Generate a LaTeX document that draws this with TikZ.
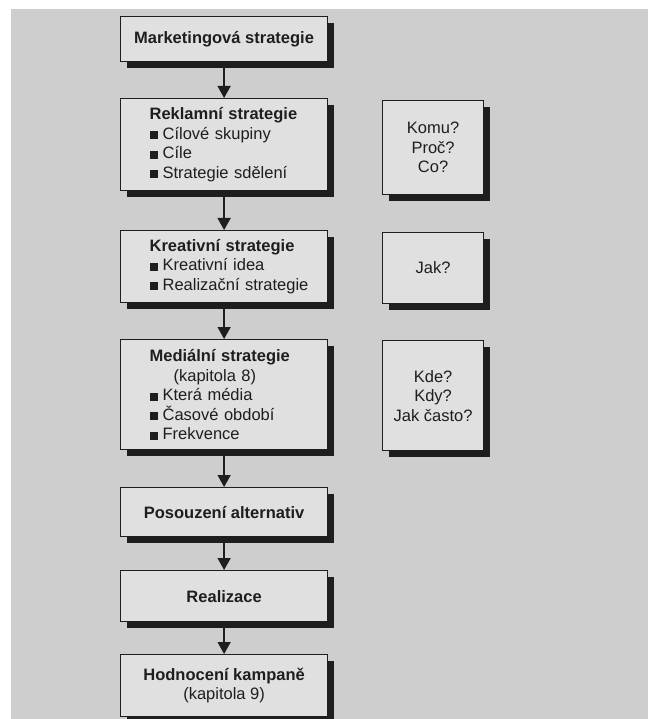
\documentclass[tikz,border=0pt]{standalone}
\usepackage{fontspec}
\setmainfont{Liberation Sans}
\usetikzlibrary{shadows,arrows.meta}
\definecolor{pagebg}{RGB}{206,206,206}
\definecolor{boxbg}{RGB}{224,224,224}
\definecolor{ink}{RGB}{30,30,30}
\newcommand{\itm}[1]{\mbox{\rule{8pt}{8pt}\hspace{5pt}#1}}
\begin{document}
\begin{tikzpicture}[x=1pt,y=-1pt,
  box/.style={draw=ink, line width=1.2pt, fill=boxbg, text=ink, anchor=north west,
    minimum width=207pt, inner sep=0pt,
    drop shadow={shadow xshift=6pt, shadow yshift=-6pt, fill=ink, opacity=1},
    font=\fontsize{16.5}{19.5}\selectfont},
  listbox/.style={box, align=left, text width=149pt},
  midbox/.style={box, align=center, font=\fontsize{16.5}{19.5}\selectfont\bfseries},
  qbox/.style={box, align=center, minimum width=101pt},
  arr/.style={draw=ink, line width=1.4pt, -{Triangle[width=13pt,length=12pt]}}
]
\useasboundingbox (0,0) rectangle (648,719);
\fill[white] (0,0) rectangle (648,719);
\fill[pagebg] (11,9) rectangle (648,719);

\node[midbox, minimum height=45pt] (b1) at (120,16) {Marketingová strategie};
\node[listbox, minimum height=92pt] (b2) at (120,98)
  {\mbox{\textbf{Reklamní strategie}}\\ \itm{Cílové skupiny}\\ \itm{Cíle}\\ \itm{Strategie sdělení}};
\node[listbox, minimum height=72pt] (b3) at (120,230)
  {\mbox{\textbf{Kreativní strategie}}\\ \itm{Kreativní idea}\\ \itm{Realizační strategie}};
\node[listbox, minimum height=110pt] (b4) at (120,339)
  {\mbox{\textbf{Mediální strategie}}\\ \hspace*{24pt}(kapitola 8)\\ \itm{Která média}\\ \itm{Časové období}\\ \itm{Frekvence}};
\node[midbox, minimum height=49pt] (b5) at (120,487) {Posouzení alternativ};
\node[midbox, minimum height=51pt] (b6) at (120,570) {Realizace};
\node[midbox, minimum height=62pt] (b7) at (120,654) {Hodnocení kampaně\\ \mdseries(kapitola 9)};

\node[qbox, minimum height=94pt] (q1) at (382,100) {Komu?\\ Proč?\\ Co?};
\node[qbox, minimum height=71pt] (q2) at (382,232) {Jak?};
\node[qbox, minimum height=110pt] (q3) at (382,340) {Kde?\\ Kdy?\\ Jak často?};

\draw[arr] (b1.south) -- (b2.north);
\draw[arr] (b2.south) -- (b3.north);
\draw[arr] (b3.south) -- (b4.north);
\draw[arr] (b4.south) -- (b5.north);
\draw[arr] (b5.south) -- (b6.north);
\draw[arr] (b6.south) -- (b7.north);
\end{tikzpicture}
\end{document}
